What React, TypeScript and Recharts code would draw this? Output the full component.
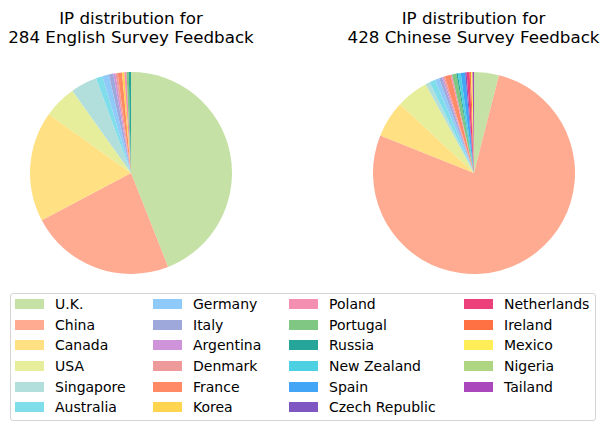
import { PieChart, Pie } from "recharts"

const countries = [
  "U.K.", "China", "Canada", "USA", "Singapore", "Australia",
  "Germany", "Italy", "Argentina", "Denmark", "France", "Korea",
  "Poland", "Portugal", "Russia", "New Zealand", "Spain", "Czech Republic",
  "Netherlands", "Ireland", "Mexico", "Nigeria", "Tailand",
]
const colors = [
  "#C5E1A5", "#FFAB91", "#FFE082", "#E6EE9C", "#B2DFDB", "#80DEEA",
  "#90CAF9", "#9FA8DA", "#CE93D8", "#EF9A9A", "#FF8A65", "#FFD54F",
  "#F48FB1", "#81C784", "#26A69A", "#4DD0E1", "#42A5F5", "#7E57C2",
  "#EC407A", "#FF7043", "#FFEE58", "#AED581", "#AB47BC",
]
const englishCounts = [125, 66, 50, 15, 12, 3, 3, 2, 1, 1, 2, 1, 1, 1, 1, 0, 0, 0, 0, 0, 0, 0, 0]
const chineseCounts = [17, 330, 25, 22, 3, 4, 3, 2, 1, 1, 4, 0, 1, 3, 1, 2, 3, 1, 2, 1, 1, 0, 1]

const swatchX = [15, 153, 289, 464]
const font = "'DejaVu Sans', sans-serif"

const toData = (counts: number[]) =>
  countries.map((name, i) => ({ name, value: counts[i], fill: colors[i] }))

function Title({ x, lines }: { x: number; lines: string[] }) {
  return (
    <text x={x} textAnchor="middle" fontFamily={font} fontSize={16.7} fill="#000">
      <tspan x={x} y={24}>{lines[0]}</tspan>
      <tspan x={x} y={43}>{lines[1]}</tspan>
    </text>
  )
}

function CountryLegend() {
  return (
    <div
      style={{
        position: "absolute", left: 10, top: 293, width: 584, height: 126,
        border: "1px solid #d5d5d5", borderRadius: 3, background: "#fff",
      }}
    >
      {countries.map((name, i) => {
        const col = Math.floor(i / 6)
        const row = i % 6
        const y = 11 + row * 20.65
        return (
          <div key={name}>
            <div
              style={{
                position: "absolute", left: swatchX[col] - 11, top: y - 6,
                width: 29, height: 10, background: colors[i],
              }}
            />
            <div
              style={{
                position: "absolute", left: swatchX[col] + 29, top: y - 10,
                fontFamily: font, fontSize: 14, lineHeight: "18px", color: "#000", whiteSpace: "nowrap",
              }}
            >
              {name}
            </div>
          </div>
        )
      })}
    </div>
  )
}

export default function App() {
  return (
    <div style={{ position: "absolute", left: 0, top: 0, width: 600, height: 422, background: "#fff" }}>
      <PieChart width={600} height={422} margin={{ top: 0, right: 0, bottom: 0, left: 0 }}>
        <Title x={131} lines={["IP distribution for", "284 English Survey Feedback"]} />
        <Title x={473.5} lines={["IP distribution for", "428 Chinese Survey Feedback"]} />
        <Pie
          data={toData(englishCounts)} dataKey="value" nameKey="name"
          cx={131} cy={173} outerRadius={101} startAngle={90} endAngle={-270}
          stroke="none" isAnimationActive={false}
        />
        <Pie
          data={toData(chineseCounts)} dataKey="value" nameKey="name"
          cx={474} cy={173} outerRadius={101} startAngle={90} endAngle={-270}
          stroke="none" isAnimationActive={false}
        />
      </PieChart>
      <CountryLegend />
    </div>
  )
}
